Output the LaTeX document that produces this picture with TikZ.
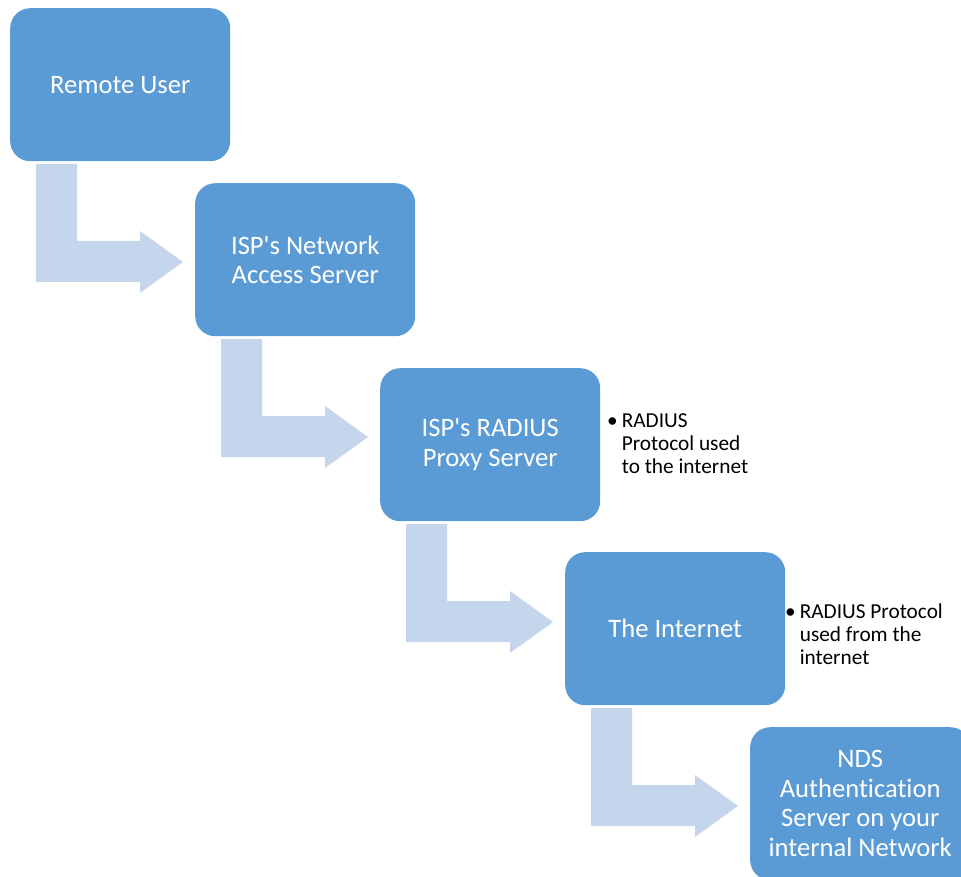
\documentclass[tikz,border=0pt]{standalone}
\usepackage{fontspec}
\newfontfamily\calfont{Carlito}[Ligatures=NoCommon]
\usetikzlibrary{positioning}
\definecolor{boxblue}{RGB}{91,155,213}
\definecolor{arrowblue}{RGB}{197,213,235}
\tikzset{
    stagebox/.style={rectangle, rounded corners=20pt,
        fill=boxblue, text=white, anchor=north west,
        minimum width=220pt, minimum height=153pt, inner sep=4pt,
        align=center, font=\calfont\fontsize{26.6}{29.5}\selectfont},
    notetext/.style={anchor=base west, inner sep=0pt,
        font=\calfont\fontsize{21.3}{23}\selectfont},
    arrowshape/.style={fill=arrowblue},
}
% L-shaped arrow leaving the bottom of #1, pointing right to the next box
\newcommand{\bentarrow}[1]{%
    \fill[arrowshape, shift={(#1.north west)}]
        (26,156) -- (67,156) -- (67,233) -- (130,233) -- (130,223)
        -- (173,254) -- (130,285) -- (130,274) -- (26,274) -- cycle;}
\newcommand{\bulletnote}[1]{%
    \begin{tabular}[t]{@{}l@{\hspace{4pt}}l@{}}\textbullet & #1\end{tabular}}

\begin{document}
\begin{tikzpicture}[x=1pt, y=-1pt]
    \useasboundingbox (0,0) rectangle (961,877);

    \node (user)   [stagebox] at (10,8)    {Remote User};
    \node (nas)    [stagebox] at (195,183) {ISP's Network\\Access Server};
    \node (proxy)  [stagebox] at (380,368) {ISP's RADIUS\\Proxy Server};
    \node (inet)   [stagebox] at (565,552) {The Internet};
    \node (nds)    [stagebox] at (750,727) {NDS\\Authentication\\Server on your\\internal Network};

    \bentarrow{user}
    \bentarrow{nas}
    \bentarrow{proxy}
    \bentarrow{inet}

    \node (note1) [notetext] at (607,427) {\bulletnote{RADIUS\\ & Protocol used\\ & to the internet}};
    \node (note2) [notetext] at (785,618) {\bulletnote{RADIUS Protocol\\ & used from the\\ & internet}};
\end{tikzpicture}
\end{document}
